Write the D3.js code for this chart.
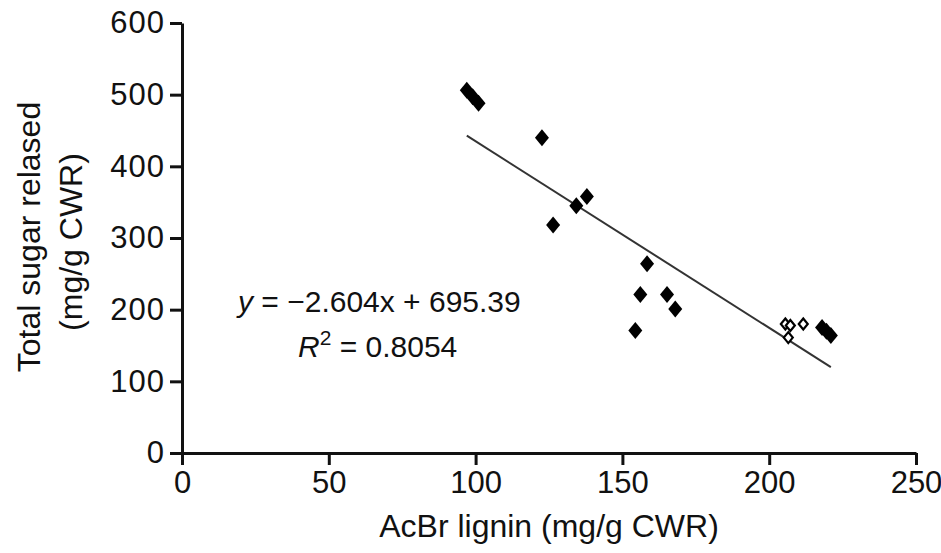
<!DOCTYPE html>
<html>
<head>
<meta charset="utf-8">
<script src="https://cdn.jsdelivr.net/npm/d3@7"></script>
<style>
  body { margin: 0; background: #fff; }
  svg text { font-family: "Liberation Sans", Arial, sans-serif; fill: #111; }
</style>
</head>
<body>
<div id="chart"></div>
<script>
// lignin (x) vs sugar released (y)
var filledX = [97, 99, 101, 122.6, 126.4, 134.3, 137.9, 154.4, 156.1, 158.4, 165.2, 168, 218, 219.5, 221];
var filledY = [506, 497, 488, 440, 318, 345, 358, 171, 221, 264, 221, 201, 175, 170, 164];
var openX = [205.5, 207.2, 206.5, 211.6];
var openY = [180, 178, 161, 180];

var slope = -2.604, intercept = 695.39;
var xTicks = [0, 50, 100, 150, 200, 250];
var yTicks = [0, 100, 200, 300, 400, 500, 600];

var width = 941, height = 553;
var margin = {top: 23, right: 25, bottom: 100, left: 182};

var svg = d3.select("#chart")
  .append("svg")
  .attr("width", width)
  .attr("height", height);

var x = d3.scaleLinear().domain([0, 250]).range([margin.left, width - margin.right]);
var y = d3.scaleLinear().domain([0, 600]).range([height - margin.bottom, margin.top]);

// axes
var xAxis = svg.append("g")
  .attr("transform", "translate(0," + y(0) + ")")
  .call(d3.axisBottom(x).tickValues(xTicks).tickSize(12).tickSizeOuter(0).tickPadding(6));
var yAxis = svg.append("g")
  .attr("transform", "translate(" + x(0) + ",0)")
  .call(d3.axisLeft(y).tickValues(yTicks).tickSize(12).tickSizeOuter(0).tickPadding(5));

[xAxis, yAxis].forEach(function(ax) {
  ax.select(".domain").attr("stroke", "#111").attr("stroke-width", 3);
  ax.selectAll(".tick line").attr("stroke", "#111").attr("stroke-width", 3);
  ax.selectAll(".tick text").style("font-size", "31px").attr("fill", "#111");
});
yAxis.selectAll(".tick text").style("letter-spacing", "1px");

// trend line over the data range
var allX = filledX.concat(openX);
var x0 = d3.min(allX), x1 = d3.max(allX);
svg.append("line")
  .attr("x1", x(x0)).attr("y1", y(slope * x0 + intercept))
  .attr("x2", x(x1)).attr("y2", y(slope * x1 + intercept))
  .attr("stroke", "#333")
  .attr("stroke-width", 2);

var diamond = "M0,-8.5L7,0L0,8.5L-7,0Z";
var openDiamond = "M0,-5.5L4.5,0L0,5.5L-4.5,0Z";

svg.selectAll(".filled")
  .data(d3.range(filledX.length))
  .enter()
  .append("path")
  .attr("class", "filled")
  .attr("d", diamond)
  .attr("transform", function(i) { return "translate(" + x(filledX[i]) + "," + y(filledY[i]) + ")"; })
  .attr("fill", "#000");

svg.selectAll(".open")
  .data(d3.range(openX.length))
  .enter()
  .append("path")
  .attr("class", "open")
  .attr("d", openDiamond)
  .attr("transform", function(i) { return "translate(" + x(openX[i]) + "," + y(openY[i]) + ")"; })
  .attr("fill", "#fff")
  .attr("stroke", "#000")
  .attr("stroke-width", 2.2);

// equation
var eq = svg.append("text").attr("x", 238).attr("y", 312).style("font-size", "30px");
eq.append("tspan").style("font-style", "italic").text("y");
eq.append("tspan").text(" = \u22122.604x  + 695.39");

var r2 = svg.append("text").attr("x", 298).attr("y", 357).style("font-size", "30px");
r2.append("tspan").style("font-style", "italic").text("R");
r2.append("tspan").attr("dy", -12).style("font-size", "21px").text("2");
r2.append("tspan").attr("dy", 12).text(" = 0.8054");

// axis titles
svg.append("text")
  .attr("x", x(125)).attr("y", 537)
  .attr("text-anchor", "middle")
  .style("font-size", "32px")
  .text("AcBr lignin (mg/g CWR)");

svg.append("text")
  .attr("transform", "translate(40,237) rotate(-90)")
  .attr("text-anchor", "middle")
  .style("font-size", "32px")
  .text("Total sugar relased");
svg.append("text")
  .attr("transform", "translate(82,242) rotate(-90)")
  .attr("text-anchor", "middle")
  .style("font-size", "32px")
  .text("(mg/g CWR)");
</script>
</body>
</html>
